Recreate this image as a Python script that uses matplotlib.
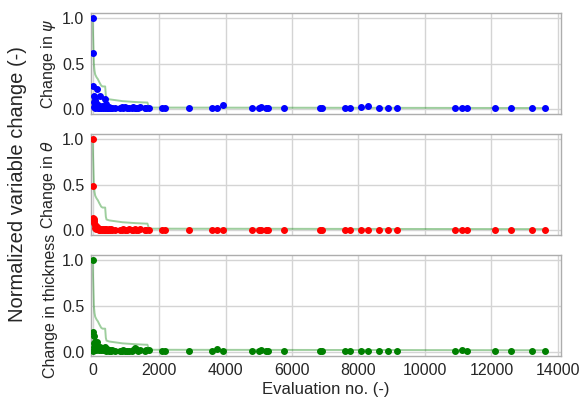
import matplotlib
matplotlib.use("Agg")
import matplotlib.pyplot as plt

plt.rcParams["font.family"] = ["Liberation Sans", "DejaVu Sans"]

# Accepted evaluations and the normalized change of each design variable
evaluations = [10, 15, 20, 30, 40, 50, 60, 80, 95, 110,
               130, 150, 170, 190, 210, 230, 250, 270, 300, 330,
               360, 380, 400, 430, 460, 490, 520, 560, 600, 680,
               830, 880, 930, 980, 1030, 1090, 1180, 1220, 1280, 1320,
               1380, 1420, 1580, 1620, 1700, 2090, 2170, 2900, 3600, 3750,
               3935, 4810, 5010, 5070, 5210, 5270, 5750, 6830, 6900, 7580,
               7760, 8080, 8280, 8630, 8880, 9150, 10910, 11120, 11260, 12110,
               12590, 13230, 13610]

change_psi = [1.0, 0.61, 0.25, 0.15, 0.08, 0.03, 0.10, 0.02, 0.07, 0.04,
              0.22, 0.02, 0.05, 0.01, 0.03, 0.15, 0.02, 0.04, 0.01, 0.03,
              0.02, 0.11, 0.06, 0.02, 0.01, 0.03, 0.02, 0.01, 0.02, 0.01,
              0.02, 0.03, 0.02, 0.03, 0.01, 0.02, 0.01, 0.03, 0.02, 0.01,
              0.02, 0.03, 0.01, 0.02, 0.01, 0.02, 0.01, 0.01, 0.01, 0.01,
              0.05, 0.01, 0.02, 0.03, 0.02, 0.02, 0.01, 0.01, 0.01, 0.01,
              0.01, 0.025, 0.035, 0.01, 0.01, 0.01, 0.015, 0.01, 0.01, 0.015,
              0.01, 0.01, 0.01]

change_theta = [1.0, 0.49, 0.14, 0.12, 0.10, 0.08, 0.06, 0.03, 0.05, 0.02,
                0.04, 0.02, 0.03, 0.01, 0.02, 0.01, 0.02, 0.01, 0.02, 0.01,
                0.02, 0.01, 0.02, 0.01, 0.01, 0.02, 0.01, 0.02, 0.01, 0.01,
                0.01, 0.01, 0.02, 0.01, 0.01, 0.02, 0.01, 0.01, 0.02, 0.01,
                0.01, 0.02, 0.01, 0.01, 0.01, 0.01, 0.01, 0.01, 0.01, 0.01,
                0.01, 0.01, 0.01, 0.01, 0.01, 0.01, 0.01, 0.01, 0.01, 0.01,
                0.01, 0.01, 0.01, 0.01, 0.01, 0.01, 0.01, 0.01, 0.01, 0.01,
                0.01, 0.01, 0.01]

change_thickness = [1.0, 0.01, 0.21, 0.17, 0.09, 0.05, 0.11, 0.03, 0.06, 0.02,
                    0.10, 0.03, 0.04, 0.02, 0.05, 0.03, 0.02, 0.04, 0.02, 0.03,
                    0.05, 0.02, 0.01, 0.03, 0.02, 0.01, 0.02, 0.01, 0.02, 0.01,
                    0.01, 0.01, 0.02, 0.01, 0.01, 0.01, 0.01, 0.02, 0.04, 0.03,
                    0.01, 0.02, 0.01, 0.02, 0.02, 0.01, 0.01, 0.01, 0.01, 0.03,
                    0.01, 0.01, 0.01, 0.02, 0.01, 0.01, 0.01, 0.01, 0.01, 0.01,
                    0.01, 0.01, 0.01, 0.01, 0.01, 0.01, 0.01, 0.02, 0.01, 0.01,
                    0.01, 0.01, 0.01]

# Normalized best objective so far
best_eval = [0, 20, 40, 60, 80, 120, 160, 200, 260, 300, 380, 400, 420,
             500, 700, 900, 1100, 1300, 1600, 1650, 1700, 13650]
best_obj = [1.0, 0.75, 0.50, 0.42, 0.38, 0.35, 0.33, 0.30, 0.26, 0.25, 0.25,
            0.15, 0.12, 0.11, 0.10, 0.09, 0.085, 0.08, 0.075, 0.075, 0.02, 0.015]

panels = [
    (change_psi, "blue", r"Change in $\psi$"),
    (change_theta, "red", r"Change in $\theta$"),
    (change_thickness, "green", "Change in thickness"),
]

fig, axes = plt.subplots(3, 1, sharex=True, figsize=(5.81, 4.08), dpi=100)
fig.subplots_adjust(left=0.157, right=0.966, top=0.968, bottom=0.127, hspace=0.2)

for ax, (vals, color, label) in zip(axes, panels):
    ax.set_facecolor("white")
    ax.grid(True, color="0.83", linewidth=1.0)
    ax.set_axisbelow(True)
    for sp in ax.spines.values():
        sp.set_color("0.68")
        sp.set_linewidth(1.0)
    ax.plot(best_eval, best_obj, color="green", alpha=0.38, linewidth=1.4, zorder=2)
    ax.plot(evaluations, vals, "o", color=color, markersize=4, linestyle="none", zorder=3)
    ax.set_ylabel(label, fontsize=11.5, color="0.15", labelpad=3)
    ax.set_yticks([0.0, 0.5, 1.0])
    ax.tick_params(axis="both", labelsize=11.5, colors="0.15", length=0, pad=5)
    ax.set_ylim(-0.05, 1.05)

axes[-1].set_xlim(-40, 14100)
axes[-1].set_xticks(range(0, 14001, 2000))
axes[-1].set_xlabel("Evaluation no. (-)", fontsize=12, color="0.15", labelpad=3)

fig.text(0.03, 0.548, "Normalized variable change (-)", rotation=90,
         va="center", ha="center", fontsize=14.5, color="0.15")

fig.savefig("out.png", dpi=100, facecolor="white")
